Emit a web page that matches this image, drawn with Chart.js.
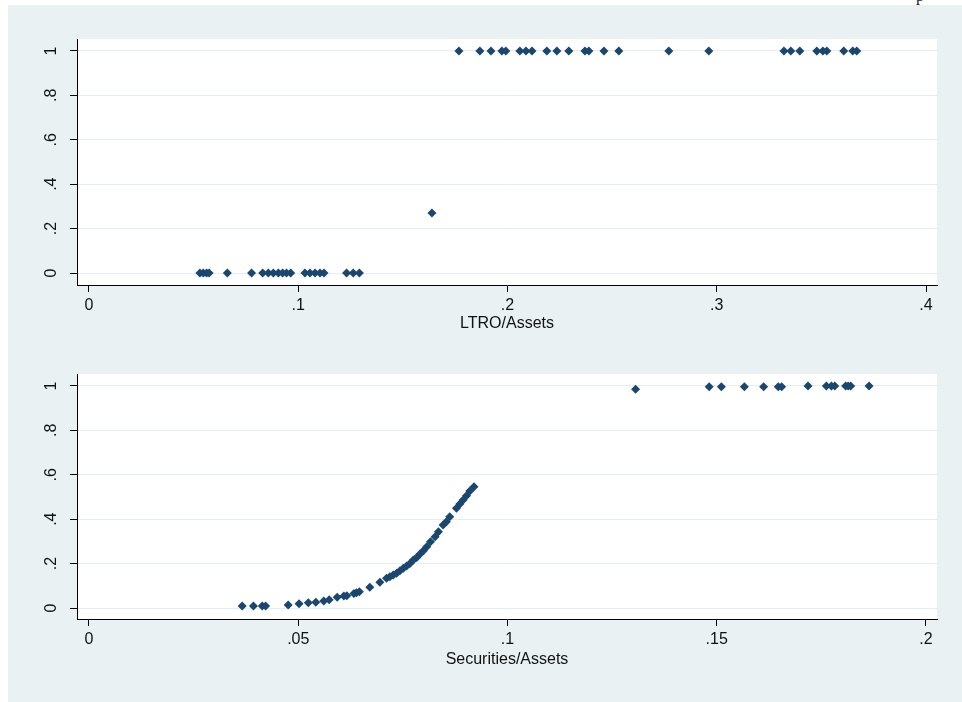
<!DOCTYPE html>
<html>
<head>
<meta charset="utf-8">
<script src="https://cdn.jsdelivr.net/npm/chart.js@4.4.1/dist/chart.umd.min.js"></script>
<style>
  html, body { margin: 0; padding: 0; background: #fff; width: 962px; height: 702px; overflow: hidden; position: relative; }
  #panel { position: absolute; left: 8px; top: 5px; right: 0; bottom: 0; background: #e9f1f3; }
  #edge { position: absolute; left: 916px; top: -13px; font: 16px "Liberation Serif", serif; color: #222; }
  canvas { position: absolute; left: 0; }
  #ltroChart { top: 0; }
  #secChart { top: 345px; }
</style>
</head>
<body>
<div id="panel"></div>
<div id="edge">p</div>
<canvas id="ltroChart" width="962" height="345"></canvas>
<canvas id="secChart" width="962" height="357"></canvas>
<script>
// Fitted probabilities against LTRO/Assets
const ltroX = [
  0.0530, 0.0546, 0.0562, 0.0574, 0.0661, 0.0777, 0.0830, 0.0857, 0.0881, 0.0905,
  0.0925, 0.0944, 0.0964, 0.1032, 0.1056, 0.1080, 0.1104, 0.1123, 0.1231, 0.1263,
  0.1292,
  0.1639,
  0.1768, 0.1868, 0.1921, 0.1973, 0.1992, 0.2059, 0.2088, 0.2117, 0.2188, 0.2236,
  0.2293, 0.2370, 0.2389, 0.2461, 0.2532, 0.2771, 0.2962, 0.3321, 0.3354, 0.3397,
  0.3478, 0.3507, 0.3526, 0.3607, 0.3650, 0.3669
];
const ltroY = [
  0, 0, 0, 0, 0, 0, 0, 0, 0, 0,
  0, 0, 0, 0, 0, 0, 0, 0, 0, 0,
  0,
  0.27,
  1, 1, 1, 1, 1, 1, 1, 1, 1, 1,
  1, 1, 1, 1, 1, 1, 1, 1, 1, 1,
  1, 1, 1, 1, 1, 1
];

// Fitted probabilities against Securities/Assets
const secX = [
  0.0366, 0.0393, 0.0414, 0.0422, 0.0476, 0.0502, 0.0524, 0.0542, 0.0561, 0.0574,
  0.0593, 0.0609, 0.0616, 0.0633, 0.0639, 0.0646, 0.0671, 0.0695, 0.0711, 0.0719,
  0.0727, 0.0735, 0.0743, 0.0751, 0.0759, 0.0767, 0.0775, 0.0783, 0.0791, 0.0799,
  0.0807, 0.0816, 0.0827, 0.0835, 0.0846, 0.0854, 0.0862, 0.0878, 0.0886, 0.0894,
  0.0902, 0.0910, 0.0920,
  0.1306, 0.1482, 0.1511, 0.1566, 0.1612, 0.1647, 0.1655, 0.1718, 0.1762, 0.1774,
  0.1782, 0.1808, 0.1814, 0.1820, 0.1864
];
const secY = [
  0.009, 0.009, 0.009, 0.009, 0.0135, 0.019, 0.024, 0.026, 0.0315, 0.037,
  0.048, 0.054, 0.055, 0.065, 0.069, 0.073, 0.093, 0.116, 0.134, 0.141,
  0.149, 0.156, 0.168, 0.179, 0.189, 0.201, 0.216, 0.228, 0.243, 0.258,
  0.276, 0.299, 0.321, 0.344, 0.374, 0.389, 0.411, 0.449, 0.468, 0.486,
  0.506, 0.527, 0.546,
  0.985, 0.997, 0.997, 0.997, 0.997, 0.997, 0.997, 1.0, 1.0, 1.0,
  1.0, 1.0, 1.0, 1.0, 1.0
];

// Axis ticks
const yTickValues = [0, 0.2, 0.4, 0.6, 0.8, 1];
const yTickLabels = ['0', '.2', '.4', '.6', '.8', '1'];
const ltroTickValues = [0, 0.1, 0.2, 0.3, 0.4];
const ltroTickLabels = ['0', '.1', '.2', '.3', '.4'];
const secTickValues = [0, 0.05, 0.1, 0.15, 0.2];
const secTickLabels = ['0', '.05', '.1', '.15', '.2'];

const FONT = '"Liberation Sans", Arial, sans-serif';
const MARKER = '#1a476f';
const TEXT = '#111';

// White plot region and rotated y-axis labels
const plotFrame = {
  id: 'plotFrame',
  beforeDraw(chart) {
    const { ctx, chartArea: a } = chart;
    ctx.save();
    ctx.fillStyle = '#ffffff';
    ctx.fillRect(a.left, a.top, a.right - a.left, a.bottom - a.top);
    ctx.restore();
  },
  afterDraw(chart) {
    const { ctx } = chart;
    const ys = chart.scales.y;
    ctx.save();
    ctx.fillStyle = TEXT;
    ctx.font = '16px ' + FONT;
    ctx.textAlign = 'center';
    ctx.textBaseline = 'middle';
    yTickValues.forEach((v, i) => {
      const py = ys.getPixelForValue(v);
      ctx.save();
      ctx.translate(52, py);
      ctx.rotate(-Math.PI / 2);
      ctx.fillText(yTickLabels[i], 0, 0);
      ctx.restore();
    });
    ctx.restore();
  }
};

function toPoints(xs, ys) {
  return xs.map((x, i) => ({ x: x, y: ys[i] }));
}

function buildChart(id, opts) {
  return new Chart(document.getElementById(id), {
    type: 'scatter',
    data: {
      datasets: [{
        data: toPoints(opts.xs, opts.ys),
        pointStyle: 'rectRot',
        pointRadius: 4.5,
        pointBackgroundColor: MARKER,
        pointBorderWidth: 0,
        pointHoverRadius: 4.5
      }]
    },
    options: {
      responsive: false,
      animation: false,
      events: [],
      layout: { padding: opts.padding },
      plugins: { legend: { display: false }, tooltip: { enabled: false } },
      scales: {
        x: {
          type: 'linear',
          min: opts.xMin,
          max: opts.xMax,
          afterBuildTicks: s => { s.ticks = opts.xTicks.map(v => ({ value: v })); },
          afterFit: s => { s.height = 60; },
          grid: { drawOnChartArea: false, drawTicks: true, tickLength: 7, tickColor: '#000', tickWidth: 1 },
          border: { display: true, color: '#000', width: 1 },
          ticks: {
            color: TEXT,
            font: { family: FONT, size: 16 },
            padding: 4,
            maxRotation: 0,
            minRotation: 0,
            autoSkip: false,
            callback: (v, i) => opts.xLabels[i]
          },
          title: {
            display: true,
            text: opts.title,
            color: TEXT,
            font: { family: FONT, size: 16 },
            padding: { top: 0, bottom: opts.titlePad }
          }
        },
        y: {
          type: 'linear',
          min: opts.yMin,
          max: opts.yMax,
          afterBuildTicks: s => { s.ticks = yTickValues.map(v => ({ value: v })); },
          afterFit: s => { s.width = 77; },
          grid: { color: '#e4edf0', lineWidth: 1, drawTicks: true, tickLength: 7, tickColor: '#000', tickWidth: 1 },
          border: { display: true, color: '#000', width: 1 },
          ticks: { display: false }
        }
      }
    },
    plugins: [plotFrame]
  });
}

buildChart('ltroChart', {
  xs: ltroX, ys: ltroY,
  xMin: -0.00573, xMax: 0.40525,
  yMin: -0.054, yMax: 1.054,
  xTicks: ltroTickValues, xLabels: ltroTickLabels,
  title: 'LTRO/Assets', titlePad: 12,
  padding: { left: 0, top: 39, right: 25, bottom: 0 }
});

buildChart('secChart', {
  xs: secX, ys: secY,
  xMin: -0.002867, xMax: 0.20263,
  yMin: -0.0495, yMax: 1.054,
  xTicks: secTickValues, xLabels: secTickLabels,
  title: 'Securities/Assets', titlePad: 10,
  padding: { left: 0, top: 29, right: 25, bottom: 23 }
});
</script>
</body>
</html>
